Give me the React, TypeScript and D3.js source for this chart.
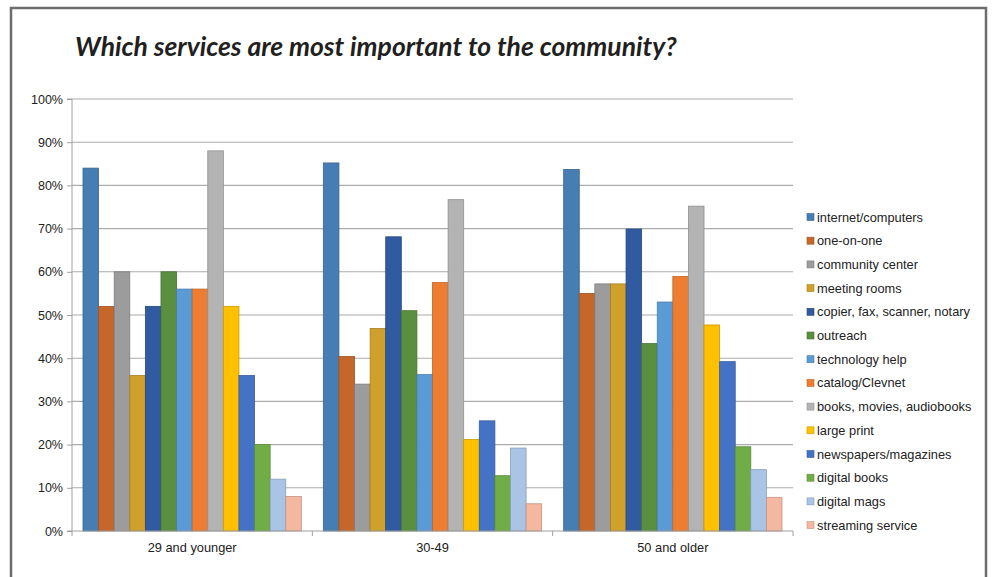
import { useEffect, useRef } from 'react'
import * as d3 from 'd3'

const groups = ['29 and younger', '30-49', '50 and older']

const services = [
  'internet/computers',
  'one-on-one',
  'community center',
  'meeting rooms',
  'copier, fax, scanner, notary',
  'outreach',
  'technology help',
  'catalog/Clevnet',
  'books, movies, audiobooks',
  'large print',
  'newspapers/magazines',
  'digital books',
  'digital mags',
  'streaming service',
]

const serviceColors = [
  '#467db3', '#c5672b', '#9c9c9c', '#d0a02c', '#305ba0', '#5a8f3f', '#5b9bd5',
  '#ed7d31', '#b3b3b3', '#ffc000', '#4472c4', '#70ad47', '#a9c4e5', '#f4b7a0',
]

// percent per service, one array per age group
const young = [84, 52, 60, 36, 52, 60, 56, 56, 88, 52, 36, 20, 12, 8]
const middle = [85.2, 40.4, 34, 46.9, 68.1, 51, 36.2, 57.5, 76.7, 21.2, 25.5, 12.8, 19.2, 6.3]
const older = [83.7, 55, 57.2, 57.2, 69.9, 43.4, 53, 58.9, 75.2, 47.7, 39.2, 19.5, 14.2, 7.8]

const yTicks = [0, 10, 20, 30, 40, 50, 60, 70, 80, 90, 100]

const W = 993
const H = 577
const margin = { left: 72, right: 200, top: 99, bottom: 46 }
const labelFont = '"Liberation Sans", Arial, sans-serif'

export default function App() {
  const svgRef = useRef<SVGSVGElement>(null)

  useEffect(() => {
    if (!svgRef.current) return
    const svg = d3.select(svgRef.current)
    svg.selectAll('*').remove()

    const values = [young, middle, older]
    const innerW = W - margin.left - margin.right
    const innerH = H - margin.top - margin.bottom

    svg.append('rect').attr('width', W).attr('height', H).attr('fill', '#fff')

    // frame
    svg.append('path')
      .attr('d', `M11,${H + 5}V8H986V${H + 5}`)
      .attr('fill', 'none')
      .attr('stroke', '#6d6d6d')
      .attr('stroke-width', 2.5)

    svg.append('text')
      .attr('x', 75)
      .attr('y', 56)
      .style('font-family', 'Lato, "Open Sans", sans-serif')
      .style('font-weight', 'bold')
      .style('font-style', 'italic')
      .style('font-size', '26.5px')
      .style('fill', '#231f20')
      .text('Which services are most important to the community?')

    const g = svg.append('g').attr('transform', `translate(${margin.left},${margin.top})`)

    const x0 = d3.scaleBand().domain(groups).range([0, innerW]).padding(0)
    const x1 = d3.scaleBand()
      .domain(services)
      .range([11, x0.bandwidth() - 11])
      .padding(0)
    const y = d3.scaleLinear().domain([0, 100]).range([innerH, 0])

    // gridlines
    g.selectAll('.grid')
      .data(yTicks.slice(1))
      .enter().append('line')
      .attr('x1', 0)
      .attr('x2', innerW)
      .attr('y1', d => y(d))
      .attr('y2', d => y(d))
      .attr('stroke', '#acacac')
      .attr('stroke-width', 1.1)

    // bars
    groups.forEach((grp, gi) => {
      const gg = g.append('g').attr('transform', `translate(${x0(grp)},0)`)
      gg.selectAll('rect')
        .data(values[gi])
        .enter().append('rect')
        .attr('x', (_, i) => x1(services[i])!)
        .attr('y', d => y(d))
        .attr('width', x1.bandwidth())
        .attr('height', d => innerH - y(d))
        .attr('fill', (_, i) => serviceColors[i])
        .attr('stroke', (_, i) => d3.color(serviceColors[i])!.darker(0.6).formatHex())
        .attr('stroke-width', 0.8)
    })

    // y axis
    const yAxis = g.append('g')
      .call(d3.axisLeft(y).tickValues(yTicks).tickSize(5).tickPadding(4).tickFormat(d => `${d}%`))
    yAxis.select('.domain').attr('stroke', '#a0a0a0').attr('d', `M-5,0H0V${innerH}H-5`)
    yAxis.selectAll('.tick line').attr('stroke', '#a0a0a0')
    yAxis.selectAll('text')
      .style('font-family', labelFont)
      .style('font-size', '12.5px')
      .style('fill', '#222')

    // x axis
    const xAxis = g.append('g').attr('transform', `translate(0,${innerH})`)
    xAxis.append('line')
      .attr('x1', 0).attr('x2', innerW)
      .attr('stroke', '#a0a0a0')
    xAxis.selectAll('.tickx')
      .data(groups.map(d => x0(d)!).concat([innerW]))
      .enter().append('line')
      .attr('x1', d => d).attr('x2', d => d)
      .attr('y1', 0).attr('y2', 5)
      .attr('stroke', '#a0a0a0')
    xAxis.selectAll('.lbl')
      .data(groups)
      .enter().append('text')
      .attr('x', d => x0(d)! + x0.bandwidth() / 2)
      .attr('y', 21)
      .attr('text-anchor', 'middle')
      .style('font-family', labelFont)
      .style('font-size', '12.8px')
      .style('fill', '#222')
      .text(d => d)

    // legend
    const legend = svg.append('g').attr('transform', 'translate(807,217)')
    const item = legend.selectAll('g')
      .data(services)
      .enter().append('g')
      .attr('transform', (_, i) => `translate(0,${i * 23.7})`)
    item.append('rect')
      .attr('x', 0).attr('y', -3.5)
      .attr('width', 7).attr('height', 7)
      .attr('fill', (_, i) => serviceColors[i])
      .attr('stroke', (_, i) => d3.color(serviceColors[i])!.darker(0.6).formatHex())
      .attr('stroke-width', 0.6)
    item.append('text')
      .attr('x', 10)
      .attr('y', 4.5)
      .style('font-family', labelFont)
      .style('font-size', '12.8px')
      .style('fill', '#222')
      .text(d => d)
  }, [])

  return (
    <svg ref={svgRef} width={W} height={H} style={{ display: 'block', position: 'absolute', left: 0, top: 0 }} />
  )
}
